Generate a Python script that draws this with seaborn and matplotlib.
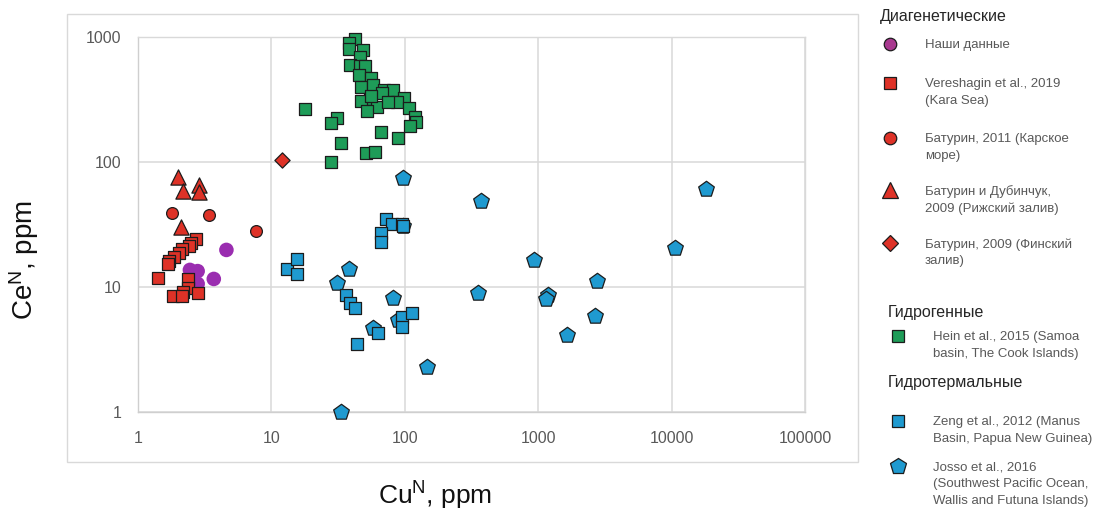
import matplotlib
matplotlib.use("Agg")
import matplotlib.pyplot as plt
import seaborn as sns
import pandas as pd
from matplotlib.lines import Line2D
from matplotlib.patches import Rectangle
from matplotlib.font_manager import FontProperties, fontManager

# ---------------- data ----------------
our_cu = [4.6, 2.45, 2.8, 2.8, 3.7, 2.5]
our_ce = [19.8, 13.7, 13.4, 10.6, 11.6, 12.0]

ver_cu = [2.72, 2.48, 2.42, 2.13, 2.04, 1.86, 1.72, 1.69, 1.42, 2.38, 2.38, 2.83, 2.18, 1.84, 2.13]
ver_ce = [24.2, 22.6, 21.3, 20.1, 18.6, 17.3, 16.2, 15.3, 11.7, 11.6, 9.8, 9.0, 9.2, 8.5, 8.4]

bat11_cu = [1.81, 3.4, 7.7]
bat11_ce = [39, 38, 28]

batd_cu = [2.0, 2.17, 2.87, 2.87, 2.1]
batd_ce = [76, 59, 65, 58, 30]

bat09_cu = [12.0]
bat09_ce = [104]

hein_cu = [42, 38, 38, 49, 46, 39, 46, 50, 45, 56, 47, 58, 70, 82, 68, 55, 47, 99, 87,
           62, 52, 108, 119, 121, 109, 18, 31, 28, 66, 89, 33, 51, 60, 28, 56, 75]
hein_ce = [970, 890, 800, 780, 690, 600, 590, 590, 500, 470, 400, 410, 375, 375, 355, 320, 305, 325, 304,
           277, 256, 270, 230, 210, 194, 265, 226, 204, 173, 155, 141, 117, 121, 100, 340, 300]

zeng_cu = [72, 80, 95, 97, 66, 66, 13, 15.6, 15.6, 36, 39, 42, 95, 114, 95, 63, 44]
zeng_ce = [35, 32, 32, 30.5, 27, 23, 14, 16.7, 12.7, 8.6, 7.4, 6.8, 5.8, 6.25, 4.8, 4.3, 3.5]

josso_cu = [97, 373, 38, 31, 82, 352, 930, 1190, 1140, 2750, 2670, 1650, 10600, 18100, 147, 58, 89, 97, 33]
josso_ce = [74, 49, 14, 10.7, 8.1, 8.9, 16.4, 8.6, 8.0, 11.2, 5.9, 4.1, 20.6, 61, 2.3, 4.7, 5.4, 31, 1.0]

x_ticks = [1, 10, 100, 1000, 10000, 100000]
x_tick_labels = ["1", "10", "100", "1000", "10000", "100000"]
y_ticks = [1, 10, 100, 1000]
y_tick_labels = ["1", "10", "100", "1000"]

group_titles = ["Диагенетические", "Гидрогенные", "Гидротермальные"]
legend_lines = {
    "our": ["Наши данные"],
    "ver": ["Vereshagin et al., 2019", "(Kara Sea)"],
    "bat11": ["Батурин, 2011 (Карское", "море)"],
    "batd": ["Батурин и Дубинчук,", "2009 (Рижский залив)"],
    "bat09": ["Батурин, 2009 (Финский", "залив)"],
    "hein": ["Hein et al., 2015 (Samoa", "basin, The Cook Islands)"],
    "zeng": ["Zeng et al., 2012 (Manus", "Basin, Papua New Guinea)"],
    "josso": ["Josso et al., 2016", "(Southwest Pacific Ocean,", "Wallis and Futuna Islands)"],
}

# ---------------- style ----------------
sns.set_style("white")
names = {f.name for f in fontManager.ttflist}
BASE = "Liberation Sans" if "Liberation Sans" in names else "DejaVu Sans"
NARROW = "Liberation Sans Narrow" if "Liberation Sans Narrow" in names else BASE
plt.rcParams["font.family"] = [BASE, "DejaVu Sans"]
plt.rcParams["mathtext.fontset"] = "custom"
plt.rcParams["mathtext.rm"] = NARROW
plt.rcParams["mathtext.it"] = NARROW

RED = "#DE3227"
GREEN = "#1E9C58"
BLUE = "#1F9AD0"
PURPLE = "#9A2DB0"
LEG_PURPLE = "#A8398F"
EDGE = "#1c1c1c"
GRID = "#D9D9D9"
TICKC = "#595959"

W, H = 1093, 515
fig = plt.figure(figsize=(W / 100, H / 100), dpi=100)
fig.patch.set_facecolor("white")
ax = fig.add_axes([138 / W, 1 - 412 / H, (805 - 138) / W, (412 - 37) / H])

def df(x, y):
    return pd.DataFrame({"cu": x, "ce": y})

common = dict(x="cu", y="ce", ax=ax, legend=False, clip_on=False)
sns.scatterplot(data=df(our_cu, our_ce), marker="o", s=110, color=PURPLE, edgecolor="none", zorder=3, **common)
sns.scatterplot(data=df(bat11_cu, bat11_ce), marker="o", s=72, color=RED, edgecolor=EDGE, linewidth=0.9, zorder=3, **common)
sns.scatterplot(data=df(batd_cu, batd_ce), marker="^", s=120, color=RED, edgecolor=EDGE, linewidth=0.9, zorder=3, **common)
sns.scatterplot(data=df(bat09_cu, bat09_ce), marker="D", s=60, color=RED, edgecolor=EDGE, linewidth=0.9, zorder=3, **common)
sns.scatterplot(data=df(ver_cu, ver_ce), marker="s", s=76, color=RED, edgecolor=EDGE, linewidth=0.9, zorder=4, **common)
sns.scatterplot(data=df(hein_cu, hein_ce), marker="s", s=76, color=GREEN, edgecolor=EDGE, linewidth=0.9, zorder=4, **common)
sns.scatterplot(data=df(josso_cu, josso_ce), marker="p", s=140, color=BLUE, edgecolor=EDGE, linewidth=0.9, zorder=4, **common)
sns.scatterplot(data=df(zeng_cu, zeng_ce), marker="s", s=76, color=BLUE, edgecolor=EDGE, linewidth=0.9, zorder=5, **common)

ax.set_xscale("log")
ax.set_yscale("log")
ax.set_xlim(1, 1e5)
ax.set_ylim(1, 1000)
ax.set_xticks(x_ticks)
ax.set_xticklabels(x_tick_labels)
ax.set_yticks(y_ticks)
ax.set_yticklabels(y_tick_labels)
ax.minorticks_off()
ax.tick_params(axis="both", length=0, labelsize=11.5, labelcolor=TICKC)
ax.tick_params(axis="x", pad=14)
ax.tick_params(axis="y", pad=12)
ax.grid(True, color=GRID, linewidth=1.1, zorder=0)
ax.set_axisbelow(True)
for side, sp in ax.spines.items():
    sp.set_visible(True)
    sp.set_color("#CFCFCF" if side in ("left", "bottom") else GRID)
    sp.set_linewidth(1.0)

lab_size = 22 if NARROW != BASE else 19
ax.set_xlabel(r"Cu$^{\mathrm{N}}$, ppm", fontsize=lab_size, family=NARROW, color="#111111")
ax.set_ylabel(r"Ce$^{\mathrm{N}}$, ppm", fontsize=lab_size + 1, family=NARROW, color="#111111")
ax.xaxis.set_label_coords((435 - 138) / 667, (412 - 480) / 375)
ax.yaxis.set_label_coords((41 - 138) / 667, (412 - 260) / 375)

# outer chart frame
fig.add_artist(Rectangle((67 / W, 1 - 462 / H), (858 - 67) / W, (462 - 14) / H,
                         transform=fig.transFigure, fill=False, edgecolor=GRID, linewidth=1.0))

# ---------------- legend ----------------
HEAD_FS = 11.5
ENTRY_FS = 9.5
fig.text(880 / W, 1 - 17 / H, group_titles[0], fontsize=HEAD_FS, color="#262626", va="center", ha="left")
fig.text(888 / W, 1 - 312 / H, group_titles[1], fontsize=HEAD_FS, color="#262626", va="center", ha="left")
fig.text(888 / W, 1 - 383 / H, group_titles[2], fontsize=HEAD_FS, color="#262626", va="center", ha="left")

def handle(marker, face, ms, edge=EDGE):
    return Line2D([], [], linestyle="none", marker=marker, markersize=ms,
                  markerfacecolor=face, markeredgecolor=edge, markeredgewidth=0.9)

def entry(h, lines, x_px, y_center_px):
    blank = Line2D([], [], linestyle="none")
    hs = [h] + [blank] * (len(lines) - 1)
    fig.legend(hs, lines, loc="upper left",
               bbox_to_anchor=(x_px / W, 1 - (y_center_px - 5) / H),
               bbox_transform=fig.transFigure, frameon=False, borderpad=0,
               borderaxespad=0, labelspacing=0.36, handlelength=1.5,
               handletextpad=1.9, handleheight=0.7,
               prop=FontProperties(family=BASE, size=ENTRY_FS), labelcolor=TICKC)

entry(handle("o", LEG_PURPLE, 9), legend_lines["our"], 880, 44)
entry(handle("s", RED, 9), legend_lines["ver"], 880, 83)
entry(handle("o", RED, 9), legend_lines["bat11"], 880, 138)
entry(handle("^", RED, 11), legend_lines["batd"], 880, 190)
entry(handle("D", RED, 8), legend_lines["bat09"], 880, 243)
entry(handle("s", GREEN, 9), legend_lines["hein"], 888, 336)
entry(handle("s", BLUE, 9), legend_lines["zeng"], 888, 421)
entry(handle("p", BLUE, 12), legend_lines["josso"], 888, 466)

fig.savefig("out.png", dpi=100, facecolor="white")
